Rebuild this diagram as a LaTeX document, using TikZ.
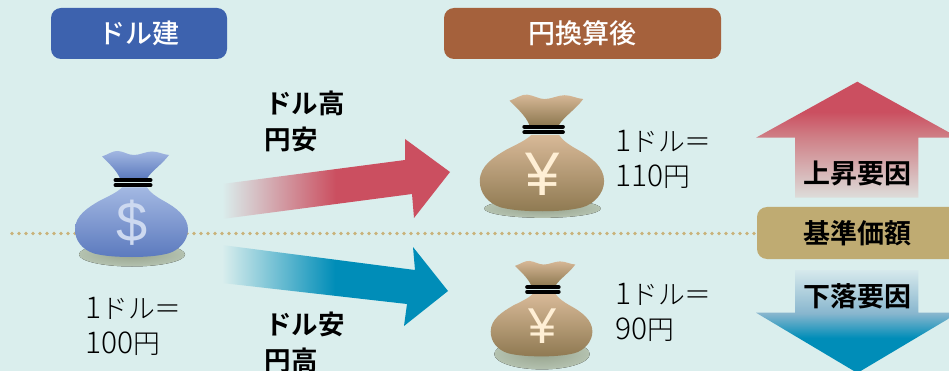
\documentclass[tikz,border=0pt]{standalone}
\usepackage{fontspec}
\setmainfont{Noto Sans CJK JP Medium}
\newfontfamily\lightjp{Noto Sans CJK JP Light}
\newfontfamily\boldjp{Noto Sans CJK JP Bold}
\newfontfamily\symfont{Liberation Sans}
\definecolor{bgmint}{HTML}{DAEEED}
\definecolor{upred}{HTML}{CB4F60}
\definecolor{upmid}{HTML}{CF8087}
\definecolor{downblue}{HTML}{008DB8}
\definecolor{downmid}{HTML}{88B6CE}
\definecolor{fadegray}{HTML}{DDDDDA}
\definecolor{fadeblue}{HTML}{D6E9EC}
\definecolor{dotline}{HTML}{C9B27A}
\definecolor{headblue}{HTML}{3D62AE}
\definecolor{headbrown}{HTML}{A5613C}
\definecolor{basetan}{HTML}{BFAB72}
\definecolor{bagbluetop}{HTML}{A3B8E2}
\definecolor{bagbluebot}{HTML}{5C7ABE}
\definecolor{bagbluesym}{HTML}{CDD9F0}
\definecolor{bagbrowntop}{HTML}{D8B998}
\definecolor{bagbrownbot}{HTML}{8F7A52}
\definecolor{bagbrownsym}{HTML}{FFEFD5}
\definecolor{shadowin}{HTML}{98A48E}
\definecolor{shadowout}{HTML}{B4C2B0}
\pgfdeclareverticalshading{upfade}{100bp}{color(0bp)=(fadegray); color(25bp)=(fadegray); color(51bp)=(upmid); color(62bp)=(upred); color(100bp)=(upred)}
\pgfdeclareverticalshading{downfade}{100bp}{color(0bp)=(downblue); color(42bp)=(downblue); color(54bp)=(downmid); color(75bp)=(fadeblue); color(100bp)=(fadeblue)}
\newcommand{\dg}[1]{{\fontsize{30}{35}\selectfont #1}}
\tikzset{
	headbox/.style={rounded corners=10pt,text=white,font=\fontsize{27}{27}\selectfont,inner sep=0pt,minimum height=51pt},
	ratetext/.style={anchor=west,align=left,inner sep=0pt,text=black,font=\fontsize{26.8}{35}\lightjp},
	trendtext/.style={anchor=west,align=left,inner sep=0pt,text=black,font=\fontsize{26.5}{36}\boldjp},
	factortext/.style={inner sep=0pt,text=black,font=\fontsize{27}{28}\boldjp},
}
% one money bag: x, y of the band, scale, top colour, bottom colour, symbol, symbol colour, node name, shadow height
\newcommand{\moneybag}[9]{
	\begin{scope}[shift={(#1,#2)},scale=#3]
	\fill[inner color=shadowin,outer color=shadowout] (0,72) ellipse (53 and #9);
	\shade[top color=#4,bottom color=#5] (-30,-26) .. controls (-24,-28) and (-19,-32) .. (-14,-31.5) .. controls (-8,-31) and (-4,-27.5) .. (2,-27.5) .. controls (8,-27.5) and (14,-31) .. (20,-31) .. controls (26,-31) and (31,-28) .. (37,-27.5) .. controls (30,-18) and (20,-12) .. (15,-4) -- (-12,-4) .. controls (-15,-12) and (-24,-20) .. (-30,-26) -- cycle;
	\shade[top color=#4,bottom color=#5] (-10,5) -- (15,5) .. controls (18,10) and (24,14) .. (31,18) .. controls (44,25) and (56,34) .. (56,47) .. controls (56,58) and (47,68) .. (36,71) .. controls (24,74) and (10,74.5) .. (0,74.5) .. controls (-12,74.5) and (-26,74) .. (-38,71) .. controls (-50,67) and (-57,58) .. (-57,47) .. controls (-57,33) and (-44,25) .. (-32,18) .. controls (-24,14) and (-15,10) .. (-10,5) -- cycle;
	\draw[black,line width=4pt,line cap=round] (-16.5,-2.4) -- (18.5,-2.4);
	\draw[black,line width=4pt,line cap=round] (-16.5,2.6) -- (18.5,2.6);
	\node[transform shape,inner sep=0pt,text=#7,font=\fontsize{56}{56}\symfont] (#8) at (0.5,40.5) {#6};
	\end{scope}
}
\begin{document}
\begin{tikzpicture}[x=1pt,y=-1pt]
	\clip (0,0) rectangle (949,371);
	\fill[bgmint] (0,0) rectangle (949,371);

	\node[headbox,fill=headblue,minimum width=176pt] (dollarhead) at (139,33.5) {ドル建};
	\node[headbox,fill=headbrown,minimum width=277pt] (yenhead) at (582.5,33.5) {円換算後};

	% right hand side
	\shade[shading=upfade] (857.3,81.7) -- (958.6,137.7) -- (918.3,137.7) -- (918.3,197.7) -- (795,197.7) -- (795,137.7) -- (756,137.7) -- cycle;
	\shade[shading=downfade] (795,270) -- (918.3,270) -- (918.3,312.7) -- (958.6,312.7) -- (857.3,373) -- (756,312.7) -- (795,312.7) -- cycle;
	\fill[rounded corners=10pt,fill=basetan] (757,207) rectangle (975,259);
	\node[factortext] (basetext) at (857,233) {基準価額};
	\node[factortext] (uptext) at (857,173) {上昇要因};
	\node[factortext] (downtext) at (857,296) {下落要因};

	\coordinate (linestart) at (12,233.5);
	\coordinate (lineend) at (757,233.5);
	\draw[dotline,line width=3.6pt,line cap=round,dash pattern=on 0pt off 7pt] (linestart) -- (lineend);

	% arrows
	\shade[left color=bgmint,right color=upred,middle color=upred] (222,184) -- (405,160) -- (405,139) -- (450,172) -- (414,218) -- (412,194) -- (222,219) -- cycle;
	\shade[left color=bgmint,right color=downblue,middle color=downblue] (222,245) -- (415,270) -- (413,247) -- (448,291) -- (404,326) -- (407,304) -- (222,283) -- cycle;

	\moneybag{132}{182.5}{1}{bagbluetop}{bagbluebot}{\$}{bagbluesym}{dollarbag}{12}
	\moneybag{542.5}{129.3}{1.1}{bagbrowntop}{bagbrownbot}{¥}{bagbrownsym}{yenbagup}{8.5}
	\moneybag{542}{289.3}{0.9}{bagbrowntop}{bagbrownbot}{¥}{bagbrownsym}{yenbagdown}{17}

	\node[ratetext] (ratedollar) at (85,326) {\dg{1}ドル＝\\\dg{100}円};
	\node[ratetext] (rateup) at (615,159) {\dg{1}ドル＝\\\dg{110}円};
	\node[ratetext] (ratedown) at (615,312.5) {\dg{1}ドル＝\\\dg{90}円};

	\node[trendtext] (trendup) at (264.5,121) {\hspace*{0.5pt}ドル高\\円安};
	\node[trendtext] (trenddown) at (264.5,342) {\hspace*{0.5pt}ドル安\\円高};
\end{tikzpicture}
\end{document}
